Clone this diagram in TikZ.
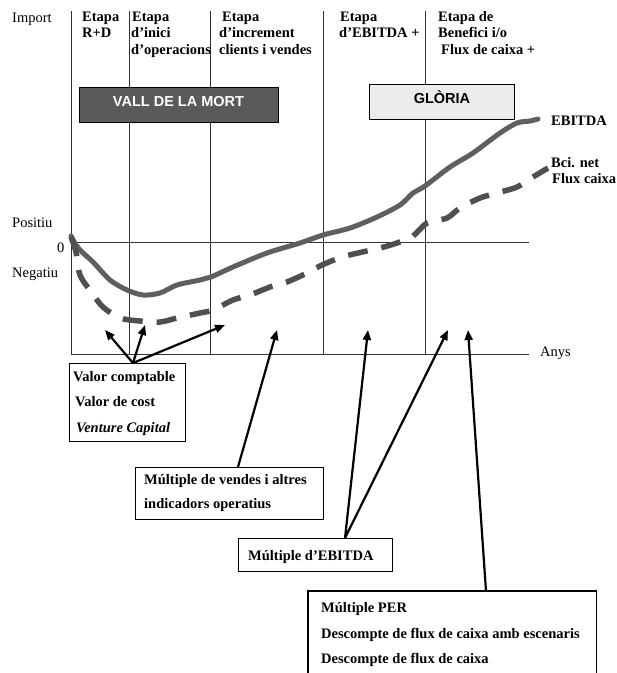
\documentclass[tikz,border=0pt]{standalone}
\usepackage{fontspec}
\setmainfont{Liberation Serif}
\setsansfont{Liberation Sans}
\usetikzlibrary{arrows.meta}
\definecolor{curvegray}{HTML}{5F5F5F}
\definecolor{dashgray}{HTML}{4F4F4F}
\definecolor{valldark}{HTML}{5A5A5A}
\definecolor{glorialight}{HTML}{ECECEC}
\begin{document}
\begin{tikzpicture}[x=1pt,y=-1pt,
  txt/.style={anchor=base west, inner sep=0, font=\fontsize{14.5}{16}\selectfont},
  btxt/.style={anchor=base west, inner sep=0, font=\fontsize{14.5}{16}\selectfont\bfseries},
  itxt/.style={anchor=base west, inner sep=0, font=\fontsize{14.5}{16}\selectfont\bfseries\itshape},
  gridline/.style={draw=black!80, line width=0.9pt},
  boxframe/.style={draw=black, line width=1.1pt, inner sep=0, anchor=north west},
  ptr/.style={line width=2.2pt, -{Triangle[length=10pt,width=8pt]}},
  ebitda/.style={draw=curvegray, line width=5pt, line cap=round, line join=round},
  bcinet/.style={draw=dashgray, line width=5.5pt, dash pattern=on 20pt off 14pt}
]
\useasboundingbox[fill=white] (0,0) rectangle (617,673);

% grid
\coordinate (v1t) at (71,11);  \coordinate (v1b) at (71,354);
\coordinate (v2t) at (129,11); \coordinate (v2b) at (129,354);
\coordinate (v3t) at (210,11); \coordinate (v3b) at (210,354);
\coordinate (v4t) at (323,11); \coordinate (v4b) at (323,354);
\coordinate (v5t) at (425,11); \coordinate (v5b) at (425,354);
\coordinate (zl) at (71,242);  \coordinate (zr) at (529,242);
\coordinate (al) at (71,354);  \coordinate (ar) at (529,354);
\draw[gridline] (v1t) -- (v1b);
\draw[gridline] (v2t) -- (v2b);
\draw[gridline] (v3t) -- (v3b);
\draw[gridline] (v4t) -- (v4b);
\draw[gridline] (v5t) -- (v5b);
\draw[gridline] (zl) -- (zr);
\draw[gridline] (al) -- (ar);

% header texts
\node[txt] (import) at (12,22) {Import};
\node[btxt] (h1a) at (82,21) {Etapa};
\node[btxt] (h1b) at (82,37.5) {R+D};
\node[btxt] (h2a) at (132,21) {Etapa};
\node[btxt] (h2b) at (131,37.5) {d’inici};
\node[btxt] (h2c) at (131,54) {d’operacions};
\node[btxt] (h3a) at (222,21) {Etapa};
\node[btxt] (h3b) at (219,37.5) {d’increment};
\node[btxt] (h3c) at (219,54) {clients i vendes};
\node[btxt] (h4a) at (340,21) {Etapa};
\node[btxt] (h4b) at (339,37.5) {d’EBITDA +};
\node[btxt] (h5a) at (438,21) {Etapa de};
\node[btxt] (h5b) at (438,37.5) {Benefici i/o};
\node[btxt] (h5c) at (441,54) {Flux de caixa +};

% banners
\node[boxframe, fill=valldark, minimum width=199, minimum height=35] (vall) at (79,87) {};
\node[anchor=base, inner sep=0, text=white, font=\sffamily\bfseries\fontsize{14.5}{16}\selectfont] (valltxt) at (178.5,106) {VALL DE LA MORT};
\node[boxframe, fill=glorialight, minimum width=145, minimum height=35] (gloria) at (369,84) {};
\node[anchor=base, inner sep=0, font=\sffamily\bfseries\fontsize{14.5}{16}\selectfont] (gloriatxt) at (442,103) {GLÒRIA};

% axis labels
\node[txt] (positiu) at (12,227) {Positiu};
\node[txt] (zero) at (57,252) {0};
\node[txt] (negatiu) at (12,277) {Negatiu};
\node[txt] (anys) at (540,356) {Anys};

% curves
\draw[ebitda] plot[smooth, tension=0.5] coordinates {
 (71,236) (76,245) (82,252) (93,262) (110,280) (127,290) (143,295) (160,293)
 (177,285) (200,280) (211,277) (233,267) (267,253) (300,243) (323,235)
 (350,228) (377,217) (400,205) (413,193) (425,186) (450,167) (473,153)
 (500,133) (517,123) (530,121) (538,119)};
\draw[bcinet] plot[smooth, tension=0.5] coordinates {
 (71,237) (76,252) (80,275) (92,293) (103,307) (120,318) (140,321) (160,322)
 (177,318) (200,313) (213,310) (233,300) (250,295) (270,287) (287,282)
 (307,273) (322,265) (342,257) (358,253) (380,248) (397,243) (413,236)
 (427,223) (447,218) (460,208) (480,198) (497,193) (517,187) (533,177) (548,168)};

\node[btxt] (lebitda) at (551,125) {EBITDA};
\node[btxt] (lbci) at (551,167) {Bci. net};
\node[btxt] (lflux) at (552,183) {Flux caixa};

% method boxes
\node[boxframe, minimum width=116, minimum height=78] (box1) at (69,363) {};
\node[btxt] (b1a) at (73,381) {Valor comptable};
\node[btxt] (b1b) at (75,406) {Valor de cost};
\node[itxt] (b1c) at (76,432) {Venture Capital};

\node[boxframe, minimum width=188, minimum height=52] (box2) at (135,467) {};
\node[btxt] (b2a) at (144,484) {Múltiple de vendes i altres};
\node[btxt] (b2b) at (144,508) {indicadors operatius};

\node[boxframe, minimum width=154, minimum height=33] (box3) at (238,538) {};
\node[btxt] (b3a) at (248,560) {Múltiple d’EBITDA};

\node[inner sep=0, anchor=north west, minimum width=288, minimum height=90] (box4) at (308,591) {};
\draw[line width=1.1pt] (box4.south west) -- (box4.north west) -- (box4.north east) -- (box4.south east);
\node[btxt] (b4a) at (321,612) {Múltiple PER};
\node[btxt] (b4b) at (321,638) {Descompte de flux de caixa amb escenaris};
\node[btxt] (b4c) at (321,663) {Descompte de flux de caixa};

% arrows
\coordinate (s1) at (133,363);
\coordinate (t1a) at (105,330);
\coordinate (t1b) at (145,325);
\coordinate (t1c) at (225,325);
\draw[ptr] (s1) -- (t1a);
\draw[ptr] (s1) -- (t1b);
\draw[ptr] (s1) -- (t1c);
\coordinate (s2) at (238,467);
\coordinate (t2) at (277,330);
\draw[ptr] (s2) -- (t2);
\coordinate (s3) at (345,538);
\coordinate (t3a) at (368,330);
\coordinate (t3b) at (448,330);
\draw[ptr] (s3) -- (t3a);
\draw[ptr] (s3) -- (t3b);
\coordinate (s4) at (486,591);
\coordinate (t4) at (468,330);
\draw[ptr] (s4) -- (t4);
\end{tikzpicture}
\end{document}
